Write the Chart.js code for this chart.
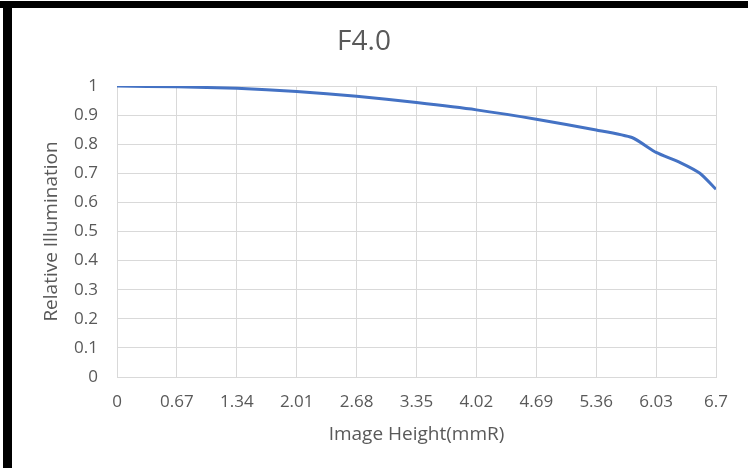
<!DOCTYPE html>
<html>
<head>
<meta charset="utf-8">
<script src="https://cdn.jsdelivr.net/npm/chart.js@4"></script>
<style>
  html, body { margin: 0; padding: 0; background: #fff; }
  #wrap { position: relative; width: 748px; height: 468px; }
  #topbar { position: absolute; left: 0; top: 1px; width: 748px; height: 7px; background: #000; }
  #leftbar { position: absolute; left: 3px; top: 1px; width: 9px; height: 467px; background: #000; }
</style>
</head>
<body>
<div id="wrap">
  <canvas id="illumChart" width="748" height="468"></canvas>
  <div id="topbar"></div>
  <div id="leftbar"></div>
</div>
<script>
// Image height (mmR) vs relative illumination
const imageHeight = [0, 0.67, 1.34, 2.01, 2.68, 3.35, 4.02, 4.69, 5.36, 5.76, 6.03, 6.3, 6.52, 6.7];
const relIllum = [1.0, 0.997, 0.992, 0.981, 0.965, 0.943, 0.918, 0.886, 0.849, 0.823, 0.772, 0.737, 0.700, 0.645];
const xTicks = [0, 0.67, 1.34, 2.01, 2.68, 3.35, 4.02, 4.69, 5.36, 6.03, 6.7];

const textColor = '#595959';
const gridColor = '#d9d9d9';
const fontFam = '"Open Sans", sans-serif';

const ctx = document.getElementById('illumChart').getContext('2d');
const chart = new Chart(ctx, {
  type: 'line',
  data: {
    datasets: [{
      label: 'F4.0',
      data: imageHeight.map((x, i) => ({ x: x, y: relIllum[i] })),
      borderColor: '#4472C4',
      borderWidth: 3,
      pointRadius: 0,
      tension: 0.2,
      fill: false
    }]
  },
  options: {
    responsive: false,
    animation: false,
    layout: { padding: { left: 12, right: 32, top: 8, bottom: 0 } },
    plugins: {
      legend: { display: false },
      tooltip: { enabled: false },
      title: {
        display: true,
        text: 'F4.0',
        color: textColor,
        font: { family: fontFam, size: 28, weight: 'normal', lineHeight: 1.2 },
        padding: { top: 17.2, bottom: 27.2 }
      }
    },
    scales: {
      x: {
        type: 'linear',
        min: 0,
        max: 6.7,
        afterBuildTicks: (scale) => { scale.ticks = xTicks.map(v => ({ value: v })); },
        afterFit: (scale) => { scale.height = 91; },
        ticks: {
          color: textColor,
          font: { family: fontFam, size: 17, lineHeight: 1.2 },
          padding: 15,
          maxRotation: 0,
          autoSkip: false,
          callback: (v) => String(v)
        },
        grid: { color: gridColor, drawTicks: false },
        border: { color: gridColor },
        title: {
          display: true,
          text: 'Image Height(mmR)',
          color: textColor,
          font: { family: fontFam, size: 19, lineHeight: 1.2 },
          padding: { top: 0, bottom: 21.6 }
        }
      },
      y: {
        min: 0,
        max: 1,
        afterFit: (scale) => { scale.width = 105; },
        ticks: {
          stepSize: 0.1,
          color: textColor,
          font: { family: fontFam, size: 17 },
          padding: 19,
          callback: (v) => String(Math.round(v * 10) / 10)
        },
        grid: { color: gridColor, drawTicks: false },
        border: { color: gridColor },
        title: {
          display: true,
          text: 'Relative Illumination',
          color: textColor,
          font: { family: fontFam, size: 19, lineHeight: 1.2 },
          padding: { top: 28.6, bottom: 0 }
        }
      }
    }
  }
});
</script>
</body>
</html>
